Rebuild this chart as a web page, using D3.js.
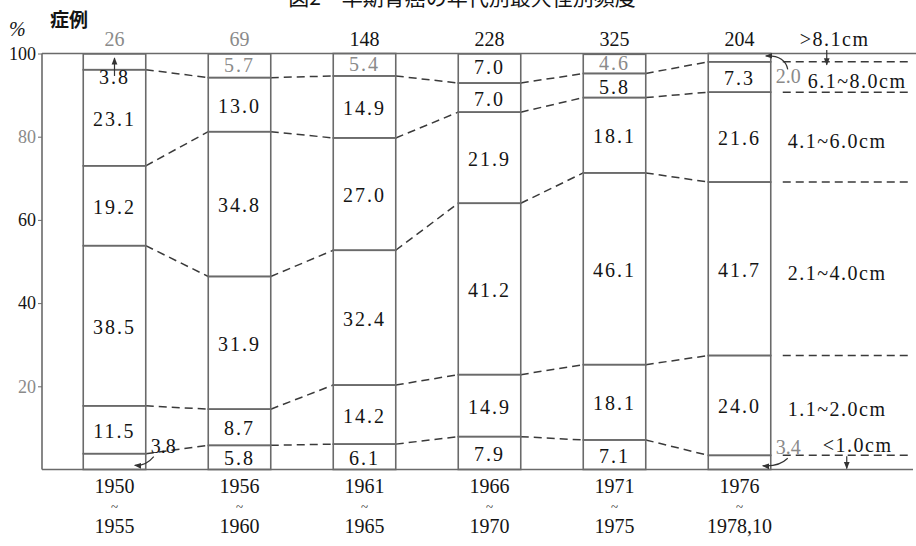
<!DOCTYPE html>
<html>
<head>
<meta charset="utf-8">
<script src="https://cdn.jsdelivr.net/npm/d3@7"></script>
<style>
  body { margin: 0; background: #fff; }
  svg { display: block; font-family: "Liberation Serif", "DejaVu Serif", serif; }
</style>
</head>
<body>
<div id="chart"></div>
<script>
const WIDTH = 916, HEIGHT = 546;

// data (percent of cases per size class, per period)
const periodStart = ["1950", "1956", "1961", "1966", "1971", "1976"];
const periodEnd = ["1955", "1960", "1965", "1970", "1975", "1978,10"];
const cases = [26, 69, 148, 228, 325, 204];
const sizeClasses = ["<1.0cm", "1.1~2.0cm", "2.1~4.0cm", "4.1~6.0cm", "6.1~8.0cm", ">8.1cm"];
const under1 = [3.8, 5.8, 6.1, 7.9, 7.1, 3.4];
const from1to2 = [11.5, 8.7, 14.2, 14.9, 18.1, 24.0];
const from2to4 = [38.5, 31.9, 32.4, 41.2, 46.1, 41.7];
const from4to6 = [19.2, 34.8, 27.0, 21.9, 18.1, 21.6];
const from6to8 = [23.1, 13.0, 14.9, 7.0, 5.8, 7.3];
const over8 = [3.8, 5.7, 5.4, 7.0, 4.6, 2.0];
const yTicks = [20, 40, 60, 80, 100];

const seriesValues = [under1, from1to2, from2to4, from4to6, from6to8, over8];
const rows = periodStart.map(function (p, i) {
    var r = { period: p };
    sizeClasses.forEach(function (k, j) { r[k] = seriesValues[j][i]; });
    return r;
});

var GRAY = "#6a6a6a", INK = "#141414", FADED = "#8a8a8a";

var svg = d3.select("#chart").append("svg")
    .attr("width", WIDTH)
    .attr("height", HEIGHT);

svg.append("defs").append("marker")
    .attr("id", "head")
    .attr("viewBox", "0 0 10 10")
    .attr("refX", 9).attr("refY", 5)
    .attr("markerWidth", 6).attr("markerHeight", 6)
    .attr("orient", "auto")
    .append("path")
    .attr("d", "M0,1 L10,5 L0,9 Z")
    .attr("fill", "#333");

var x = d3.scaleBand()
    .domain(periodStart)
    .range([52, 802])
    .paddingInner(0.5)
    .paddingOuter(0.25);
var bw = x.bandwidth();

var y = d3.scaleLinear()
    .domain([0, 100])
    .range([469.5, 53.5]);

var stacked = d3.stack().keys(sizeClasses)(rows);

// title (cut off at the top of the scan)
svg.append("text")
    .attr("x", 462).attr("y", 5)
    .attr("text-anchor", "middle")
    .style("font-family", "'Noto Sans CJK JP'")
    .style("font-size", "21px")
    .attr("fill", INK)
    .text("図2　早期胃癌の年代別最大径別頻度");

svg.append("text")
    .attr("x", 50).attr("y", 27)
    .style("font-family", "'Noto Sans CJK JP'")
    .style("font-size", "19px")
    .style("font-weight", "bold")
    .attr("fill", INK)
    .text("症例");
svg.append("text")
    .attr("x", 9).attr("y", 36)
    .style("font-size", "20px")
    .style("font-style", "italic")
    .attr("fill", INK)
    .text("%");

// frame
svg.append("line").attr("x1", 42).attr("x2", 42).attr("y1", y(100)).attr("y2", y(0))
    .attr("stroke", GRAY).attr("stroke-width", 1.6);
svg.append("line").attr("x1", 42).attr("x2", WIDTH).attr("y1", y(100)).attr("y2", y(100))
    .attr("stroke", GRAY).attr("stroke-width", 1.6);
svg.append("line").attr("x1", 42).attr("x2", 913).attr("y1", y(0)).attr("y2", y(0))
    .attr("stroke", GRAY).attr("stroke-width", 1.6);

var yAxis = d3.axisLeft(y).tickValues(yTicks).tickSize(4).tickPadding(2);
var yg = svg.append("g")
    .attr("transform", "translate(42,0)")
    .call(yAxis);
yg.select(".domain").remove();
yg.selectAll(".tick line").attr("stroke", GRAY);
yg.selectAll(".tick text")
    .style("font-size", "18px")
    .style("font-family", "'Liberation Serif', serif")
    .attr("fill", function (d) { return (d === 80 || d === 20) ? FADED : INK; });

// dashed connectors between neighbouring bars
var dashG = svg.append("g")
    .attr("stroke", "#3a3a3a")
    .attr("stroke-width", 1.5)
    .attr("stroke-dasharray", "8,5")
    .attr("fill", "none");
stacked.slice(0, 5).forEach(function (s) {
    for (var i = 0; i < s.length - 1; i++) {
        dashG.append("line")
            .attr("x1", x(periodStart[i]) + bw).attr("y1", y(s[i][1]))
            .attr("x2", x(periodStart[i + 1])).attr("y2", y(s[i + 1][1]));
    }
    var last = s[s.length - 1];
    dashG.append("line")
        .attr("x1", x(periodStart[s.length - 1]) + bw + 12).attr("y1", y(last[1]))
        .attr("x2", 910).attr("y2", y(last[1]));
});

// bar segments
stacked.forEach(function (s) {
    svg.append("g").selectAll("rect")
        .data(s)
        .enter()
        .append("rect")
        .attr("x", function (d) { return x(d.data.period); })
        .attr("y", function (d) { return y(d[1]); })
        .attr("width", bw)
        .attr("height", function (d) { return y(d[0]) - y(d[1]); })
        .attr("fill", "none")
        .attr("stroke", GRAY)
        .attr("stroke-width", 1.6);
});

// value labels
var faded = { "1956|>8.1cm": 1, "1961|>8.1cm": 1, "1971|>8.1cm": 1, "1976|>8.1cm": 1, "1976|<1.0cm": 1 };
var outside = { "1950|<1.0cm": 1, "1976|<1.0cm": 1, "1976|>8.1cm": 1 };
stacked.forEach(function (s) {
    svg.append("g").selectAll("text")
        .data(s)
        .enter()
        .append("text")
        .attr("x", function (d) {
            var k = d.data.period + "|" + s.key;
            if (outside[k]) return x(d.data.period) + bw + 5;
            return x(d.data.period) + bw / 2;
        })
        .attr("y", function (d) {
            var k = d.data.period + "|" + s.key;
            if (k === "1950|>8.1cm") return y(d[0]) + 14;
            if (k === "1950|<1.0cm" || k === "1976|<1.0cm") return y(d[1]) - 1;
            if (k === "1976|>8.1cm") return y(d[0]) + 21;
            var off = s.key === ">8.1cm" ? 6 : 8;
            return (y(d[0]) + y(d[1])) / 2 + off;
        })
        .attr("text-anchor", function (d) {
            return outside[d.data.period + "|" + s.key] ? "start" : "middle";
        })
        .style("font-size", "20px")
        .style("letter-spacing", function (d) {
            return outside[d.data.period + "|" + s.key] ? "0px" : "2px";
        })
        .attr("fill", function (d) { return faded[d.data.period + "|" + s.key] ? FADED : INK; })
        .text(function (d) { return (d[1] - d[0]).toFixed(1); });
});

// case counts
svg.append("g").selectAll("text")
    .data(cases)
    .enter()
    .append("text")
    .attr("x", function (d, i) { return x(periodStart[i]) + bw / 2; })
    .attr("y", 46)
    .attr("text-anchor", "middle")
    .style("font-size", "20px")
    .attr("fill", function (d, i) { return i < 2 ? FADED : INK; })
    .text(function (d) { return d; });

// period labels
var xl = svg.append("g").selectAll("g")
    .data(periodStart)
    .enter()
    .append("g")
    .attr("transform", function (d) { return "translate(" + (x(d) + bw / 2) + ",0)"; })
    .attr("text-anchor", "middle")
    .attr("fill", INK);
xl.append("text").attr("y", 493).style("font-size", "20px").text(function (d) { return d; });
xl.append("text").attr("y", 511).style("font-size", "13px").text("~");
xl.append("text").attr("y", 533).style("font-size", "20px").text(function (d, i) { return periodEnd[i]; });

// size class labels at the right
var lastBar = stacked.map(function (s) { return s[s.length - 1]; });
var right = x(periodStart[5]) + bw;
var legX = [right + 52, right + 17, right + 17, right + 17, right + 37, right + 29];
var legY = lastBar.map(function (d, j) {
    if (j === 0) return y(d[1]) - 3;
    if (j === 5) return 46;
    return (y(d[0]) + y(d[1])) / 2 + 11;
});
svg.append("g").selectAll("text")
    .data(sizeClasses)
    .enter()
    .append("text")
    .attr("x", function (d, j) { return legX[j]; })
    .attr("y", function (d, j) { return legY[j]; })
    .style("font-size", "20px")
    .style("letter-spacing", "1.5px")
    .attr("fill", INK)
    .text(function (d) { return d; });

// little pointer arrows
var arrows = svg.append("g")
    .attr("stroke", "#333")
    .attr("stroke-width", 1.2)
    .attr("fill", "none");
var b0 = x(periodStart[0]);
var top0 = stacked[5][0], bot0 = stacked[0][0], top5 = stacked[5][5], bot5 = stacked[0][5];
arrows.append("path")
    .attr("d", "M" + (b0 + bw / 2) + "," + y(top0[0] - 1.5) + " L" + (b0 + bw / 2) + "," + y(top0[1] - 1))
    .attr("marker-end", "url(#head)");
arrows.append("path")
    .attr("d", "M" + (b0 + bw + 8) + "," + y(bot0[1] - 0.7) + " Q" + (b0 + bw) + "," + y(0.8) + " " + (b0 + bw - 11) + "," + y(1))
    .attr("marker-end", "url(#head)");
arrows.append("path")
    .attr("d", "M" + (right + 17) + "," + y(bot5[1] - 0.7) + " Q" + (right + 8) + "," + y(0.6) + " " + (right - 8) + "," + y(0.9))
    .attr("marker-end", "url(#head)");
arrows.append("path")
    .attr("d", "M" + (right + 17) + "," + y(top5[0] - 1.8) + " Q" + (right + 14) + "," + y(top5[1] - 0.4) + " " + (right - 5) + "," + y(top5[1] - 0.6))
    .attr("marker-end", "url(#head)");
arrows.append("path")
    .attr("d", "M" + (right + 56) + "," + 50 + " L" + (right + 56) + "," + (y(top5[0]) + 3))
    .attr("marker-end", "url(#head)");
arrows.append("path")
    .attr("d", "M" + (right + 76) + "," + (y(bot5[1]) + 1) + " L" + (right + 76) + "," + (y(0) - 1))
    .attr("marker-end", "url(#head)");
</script>
</body>
</html>
